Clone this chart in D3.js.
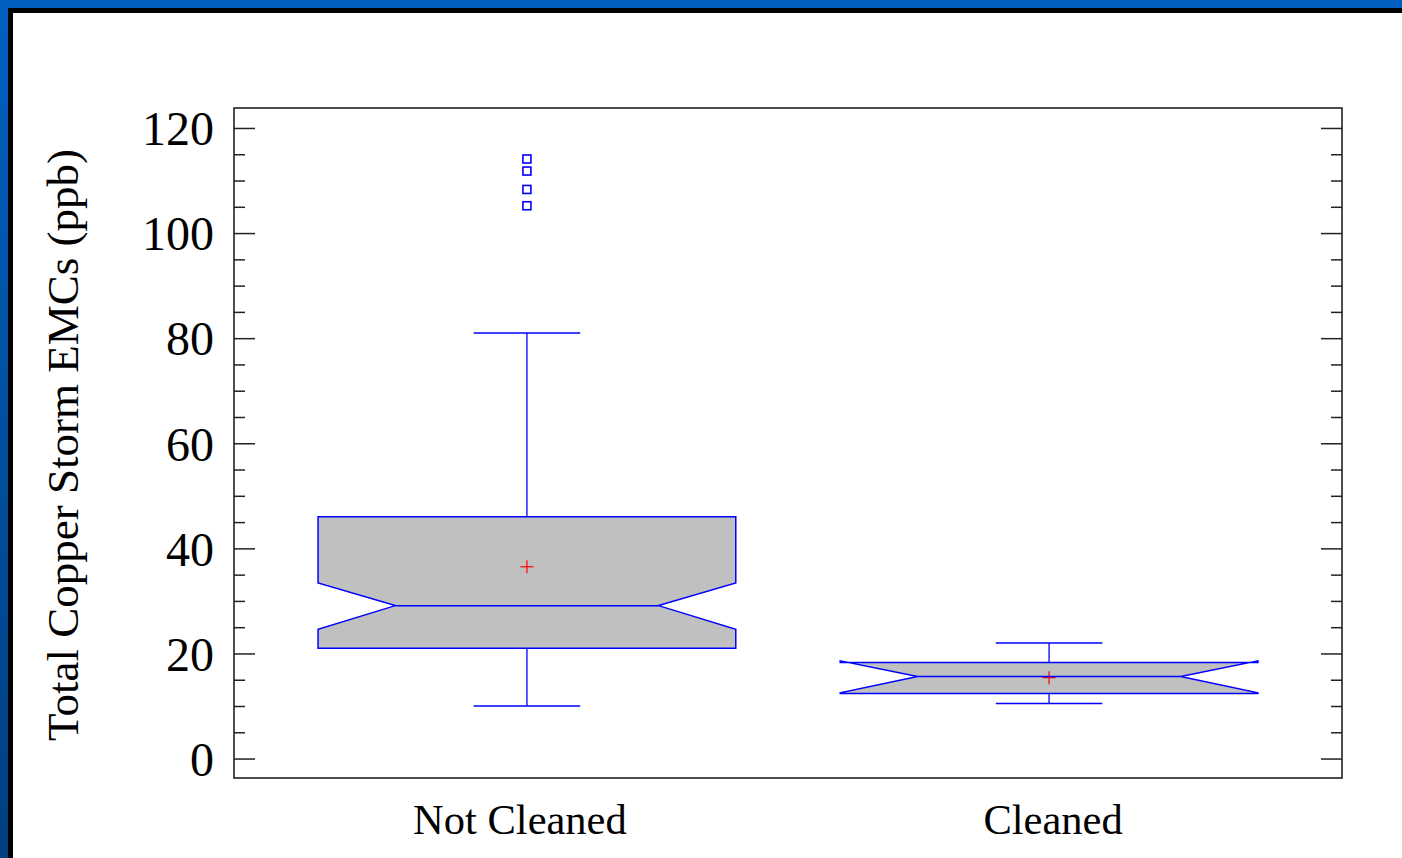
<!DOCTYPE html>
<html>
<head>
<meta charset="utf-8">
<script src="https://cdn.jsdelivr.net/npm/d3@7"></script>
<style>
  html, body { margin: 0; padding: 0; background: #fff; }
  svg { display: block; }
</style>
</head>
<body>
<svg id="chart" width="1402" height="858"></svg>
<script>
// ---- data ----
const categories   = ["Not Cleaned", "Cleaned"];
const q1           = [21.0, 12.4];
const medians      = [29.1, 15.6];
const q3           = [46.0, 18.3];
const notchLow     = [24.6, 12.5];
const notchHigh    = [33.4, 18.6];
const whiskerLow   = [10.0, 10.5];
const whiskerHigh  = [81.0, 22.0];
const means        = [36.5, 15.4];
const outliers     = [[105.2, 108.3, 111.8, 114.1], []];
const majorTicks   = [0, 20, 40, 60, 80, 100, 120];
const yTitle       = "Total Copper Storm EMCs (ppb)";

// ---- layout ----
const W = 1402, H = 858;
const plot = { left: 234, right: 1342, top: 108, bottom: 778 };
const labelShift = [-7, 4];
const svg = d3.select("#chart");

// background frame
const defs = svg.append("defs");
const grad = defs.append("linearGradient").attr("id", "leftGrad")
  .attr("x1", 0).attr("y1", 0).attr("x2", 0).attr("y2", 1);
grad.append("stop").attr("offset", "0%").attr("stop-color", "#0060c0");
grad.append("stop").attr("offset", "100%").attr("stop-color", "#003f80");

svg.append("rect").attr("x", 0).attr("y", 0).attr("width", W).attr("height", H).attr("fill", "#fff");
svg.append("rect").attr("x", 0).attr("y", 0).attr("width", W).attr("height", 8).attr("fill", "#0060c0");
svg.append("rect").attr("x", 0).attr("y", 0).attr("width", 8).attr("height", H).attr("fill", "url(#leftGrad)");
svg.append("rect").attr("x", 8).attr("y", 8).attr("width", W - 8).attr("height", 5).attr("fill", "#000");
svg.append("rect").attr("x", 8).attr("y", 8).attr("width", 5).attr("height", H - 8).attr("fill", "#000");

// scales
const y = d3.scaleLinear().domain([-3.7, 123.8]).range([plot.bottom, plot.top]);
const x = d3.scalePoint().domain(categories).range([plot.left, plot.right]).padding(0.561);
const step = x.step();
const boxHalf = step * 0.8 / 2;
const notchHalf = boxHalf * 0.63;
const capHalf = boxHalf * 0.255;

const minorTicks = d3.range(0, 125, 5).filter(v => v % 20 !== 0);
const font = "'Liberation Serif', 'Times New Roman', serif";

// left axis (labels + inward major ticks)
const leftAxis = svg.append("g").attr("transform", `translate(${plot.left},0)`)
  .call(d3.axisLeft(y).tickValues(majorTicks).tickSizeInner(-21).tickSizeOuter(0).tickPadding(20));
leftAxis.select(".domain").remove();
leftAxis.selectAll(".tick line").attr("stroke", "#222").attr("stroke-width", 1.5);
leftAxis.selectAll(".tick text").attr("font-family", font).attr("font-size", 48)
  .attr("fill", "#000").attr("dy", "0.35em");

const leftMinor = svg.append("g").attr("transform", `translate(${plot.left},0)`)
  .call(d3.axisRight(y).tickValues(minorTicks).tickSize(11).tickFormat(""));
leftMinor.select(".domain").remove();
leftMinor.selectAll(".tick line").attr("stroke", "#222").attr("stroke-width", 1.5);

// right axis (inward ticks)
const rightMajor = svg.append("g").attr("transform", `translate(${plot.right},0)`)
  .call(d3.axisLeft(y).tickValues(majorTicks).tickSize(21).tickFormat(""));
rightMajor.select(".domain").remove();
rightMajor.selectAll(".tick line").attr("stroke", "#222").attr("stroke-width", 1.5);
const rightMinor = svg.append("g").attr("transform", `translate(${plot.right},0)`)
  .call(d3.axisLeft(y).tickValues(minorTicks).tickSize(11).tickFormat(""));
rightMinor.select(".domain").remove();
rightMinor.selectAll(".tick line").attr("stroke", "#222").attr("stroke-width", 1.5);

// frame
svg.append("rect")
  .attr("x", plot.left).attr("y", plot.top)
  .attr("width", plot.right - plot.left).attr("height", plot.bottom - plot.top)
  .attr("fill", "none").attr("stroke", "#222").attr("stroke-width", 1.6);

// boxes
const blue = "#0000ff";
categories.forEach((c, i) => {
  const cx = x(c);
  const L = cx - boxHalf, R = cx + boxHalf, iL = cx - notchHalf, iR = cx + notchHalf;
  const g = svg.append("g");
  // whiskers
  g.append("line").attr("x1", cx).attr("x2", cx).attr("y1", y(q3[i])).attr("y2", y(whiskerHigh[i]))
    .attr("stroke", blue).attr("stroke-width", 1.3);
  g.append("line").attr("x1", cx).attr("x2", cx).attr("y1", y(q1[i])).attr("y2", y(whiskerLow[i]))
    .attr("stroke", blue).attr("stroke-width", 1.3);
  g.append("line").attr("x1", cx - capHalf).attr("x2", cx + capHalf).attr("y1", y(whiskerHigh[i])).attr("y2", y(whiskerHigh[i]))
    .attr("stroke", blue).attr("stroke-width", 1.5);
  g.append("line").attr("x1", cx - capHalf).attr("x2", cx + capHalf).attr("y1", y(whiskerLow[i])).attr("y2", y(whiskerLow[i]))
    .attr("stroke", blue).attr("stroke-width", 1.5);
  // notched box
  const pts = [
    [L, y(q1[i])], [L, y(notchLow[i])], [iL, y(medians[i])], [L, y(notchHigh[i])], [L, y(q3[i])],
    [R, y(q3[i])], [R, y(notchHigh[i])], [iR, y(medians[i])], [R, y(notchLow[i])], [R, y(q1[i])]
  ];
  g.append("path").attr("d", d3.line()(pts) + "Z")
    .attr("fill", "#c0c0c0").attr("stroke", blue).attr("stroke-width", 1.5).attr("stroke-linejoin", "miter");
  // mean
  const my = y(means[i]);
  g.append("line").attr("x1", cx - 6.5).attr("x2", cx + 6.5).attr("y1", my).attr("y2", my)
    .attr("stroke", "#ff0000").attr("stroke-width", 1.2);
  g.append("line").attr("x1", cx).attr("x2", cx).attr("y1", my - 6.5).attr("y2", my + 6.5)
    .attr("stroke", "#ff0000").attr("stroke-width", 1.2);
  // median
  g.append("line").attr("x1", iL).attr("x2", iR).attr("y1", y(medians[i])).attr("y2", y(medians[i]))
    .attr("stroke", blue).attr("stroke-width", 1.5);
  // outliers
  g.selectAll("rect.out").data(outliers[i]).enter().append("rect").attr("class", "out")
    .attr("x", cx - 4).attr("y", d => y(d) - 4).attr("width", 8).attr("height", 8)
    .attr("fill", "none").attr("stroke", blue).attr("stroke-width", 1.6);
  // category label
  svg.append("text").attr("x", cx + labelShift[i]).attr("y", 834).attr("text-anchor", "middle")
    .attr("font-family", font).attr("font-size", 42.5).attr("fill", "#000").text(c);
});

// y title
svg.append("text").attr("transform", "translate(78,445) rotate(-90)")
  .attr("text-anchor", "middle").attr("font-family", font).attr("font-size", 45)
  .attr("fill", "#000").text(yTitle);
</script>
</body>
</html>
